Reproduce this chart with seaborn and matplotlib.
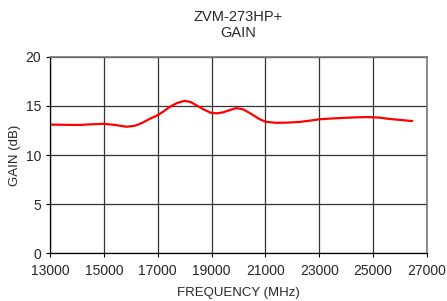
import pandas as pd
import matplotlib.pyplot as plt
import seaborn as sns

# -------------------------------
# Data
# -------------------------------

freq_mhz = [13000, 13550, 14050, 14540, 15000, 15450, 15840, 16150, 16390, 16700,
            17000, 17220, 17440, 17720, 18000, 18220, 18430, 18700, 18990, 19200,
            19420, 19680, 19915, 20170, 20410, 20780, 21000, 21400, 21800, 22260,
            22650, 23000, 23450, 23860, 24300, 24750, 25200, 25590, 26000, 26460]
gain_db = [13.10, 13.08, 13.06, 13.13, 13.18, 13.05, 12.88, 12.98, 13.23, 13.68,
           14.06, 14.45, 14.90, 15.30, 15.52, 15.40, 15.08, 14.65, 14.28, 14.25,
           14.34, 14.58, 14.78, 14.66, 14.29, 13.66, 13.40, 13.28, 13.30, 13.37,
           13.50, 13.64, 13.72, 13.78, 13.83, 13.87, 13.82, 13.68, 13.58, 13.46]

x_ticks = [13000, 15000, 17000, 19000, 21000, 23000, 25000, 27000]
y_ticks = [0, 5, 10, 15, 20]

df = pd.DataFrame({"freq": freq_mhz, "gain": gain_db})

# -------------------------------
# Plot
# -------------------------------

sns.set_style("white")
plt.rcParams["font.family"] = ["Liberation Sans", "DejaVu Sans"]

fig = plt.figure(figsize=(4.47, 3.01), dpi=100)
ax = fig.add_axes([0.112, 0.159, 0.843, 0.652])

sns.lineplot(data=df, x="freq", y="gain", color="#ff0000", linewidth=1.6, ax=ax)

ax.set_xlim(13000, 27000)
ax.set_ylim(0, 20)
ax.set_xticks(x_ticks)
ax.set_yticks(y_ticks)
ax.grid(True, color="#333333", linewidth=0.9)
ax.tick_params(axis="x", pad=5)
ax.tick_params(axis="both", labelsize=10, length=3, width=0.8, color="black",
               direction="out", left=True, bottom=True)

for side in ["left", "bottom"]:
    ax.spines[side].set_color("black")
    ax.spines[side].set_linewidth(0.9)
for side in ["top", "right"]:
    ax.spines[side].set_color("#777777")
    ax.spines[side].set_linewidth(1.2)

ax.set_xlabel("FREQUENCY (MHz)", fontsize=9.5, labelpad=6.5)
ax.set_ylabel("GAIN (dB)", fontsize=9.5, labelpad=3.5)
ax.set_title("ZVM-273HP+\nGAIN", fontsize=10.5, pad=14.5, linespacing=1.2)

fig.savefig("out.png", dpi=100)
plt.close(fig)
